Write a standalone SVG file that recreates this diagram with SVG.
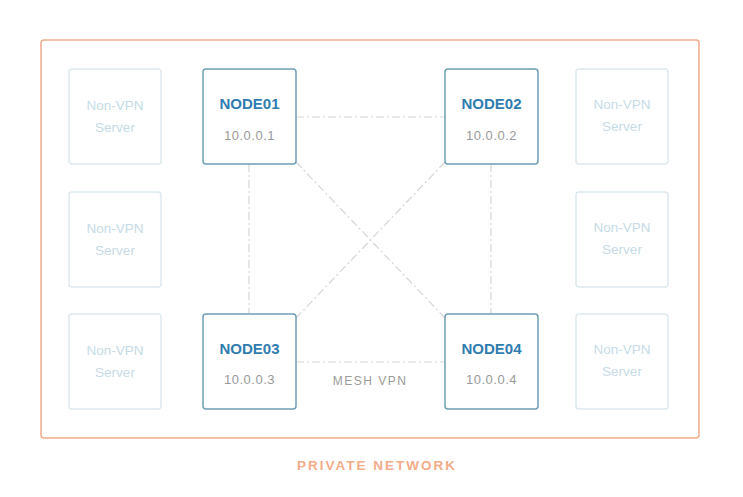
<svg xmlns="http://www.w3.org/2000/svg" width="743" height="497" viewBox="0 0 743 497">
<style>
.node{fill:#fff;stroke:#6f9fb5;stroke-width:1.5}
.srv{fill:#fff;stroke:#dde9ef;stroke-width:1.5}
.nt{font-family:"Liberation Sans",Arial,sans-serif;font-size:15px;font-weight:bold;fill:#2f7cb0;text-anchor:middle}
.ip{font-family:"Liberation Sans",Arial,sans-serif;font-size:13px;fill:#9a9a9a;text-anchor:middle;letter-spacing:0.5px}
.st{font-family:"Liberation Sans",Arial,sans-serif;font-size:13.5px;fill:#c6dbe7;text-anchor:middle}
.ln{stroke:#d6d6d6;stroke-width:1.2;stroke-dasharray:8 3 2 3;fill:none}
</style>
<rect width="743" height="497" fill="#fff"/>
<rect x="41" y="40" width="658" height="398" rx="3" fill="none" stroke="#f2ac8a" stroke-width="1.5"/>
<g id="connectors">
<line class="ln" x1="296" y1="117" x2="445" y2="117"/>
<line class="ln" x1="296" y1="362" x2="445" y2="362"/>
<line class="ln" x1="249" y1="164" x2="249" y2="314"/>
<line class="ln" x1="491" y1="164" x2="491" y2="314"/>
<line class="ln" x1="296" y1="162" x2="445" y2="318"/>
<line class="ln" x1="445" y1="162" x2="296" y2="318"/>
</g>
<g id="node01"><rect class="node" x="203" y="69" width="93" height="95" rx="3"/><text class="nt" x="249.5" y="109">NODE01</text><text class="ip" x="249.5" y="140">10.0.0.1</text></g>
<g id="node02"><rect class="node" x="445" y="69" width="93" height="95" rx="3"/><text class="nt" x="491.5" y="109">NODE02</text><text class="ip" x="491.5" y="140">10.0.0.2</text></g>
<g id="node03"><rect class="node" x="203" y="314" width="93" height="95" rx="3"/><text class="nt" x="249.5" y="354">NODE03</text><text class="ip" x="249.5" y="384">10.0.0.3</text></g>
<g id="node04"><rect class="node" x="445" y="314" width="93" height="95" rx="3"/><text class="nt" x="491.5" y="354">NODE04</text><text class="ip" x="491.5" y="384">10.0.0.4</text></g>
<g id="srvL1"><rect class="srv" x="69" y="69" width="92" height="95" rx="3"/><text class="st" x="115" y="110">Non-VPN</text><text class="st" x="115" y="132">Server</text></g>
<g id="srvL2"><rect class="srv" x="69" y="192" width="92" height="95" rx="3"/><text class="st" x="115" y="233">Non-VPN</text><text class="st" x="115" y="255">Server</text></g>
<g id="srvL3"><rect class="srv" x="69" y="314" width="92" height="95" rx="3"/><text class="st" x="115" y="355">Non-VPN</text><text class="st" x="115" y="377">Server</text></g>
<g id="srvR1"><rect class="srv" x="576" y="69" width="92" height="95" rx="3"/><text class="st" x="622" y="109">Non-VPN</text><text class="st" x="622" y="131">Server</text></g>
<g id="srvR2"><rect class="srv" x="576" y="192" width="92" height="95" rx="3"/><text class="st" x="622" y="232">Non-VPN</text><text class="st" x="622" y="254">Server</text></g>
<g id="srvR3"><rect class="srv" x="576" y="314" width="92" height="95" rx="3"/><text class="st" x="622" y="354">Non-VPN</text><text class="st" x="622" y="376">Server</text></g>
<text class="ip" x="370" y="385" style="letter-spacing:1.5px;font-size:12px">MESH VPN</text>
<text x="377" y="470" style="font-family:'Liberation Sans',Arial,sans-serif;font-size:13.5px;font-weight:bold;fill:#f2ac8a;letter-spacing:2px;text-anchor:middle">PRIVATE NETWORK</text>
</svg>
